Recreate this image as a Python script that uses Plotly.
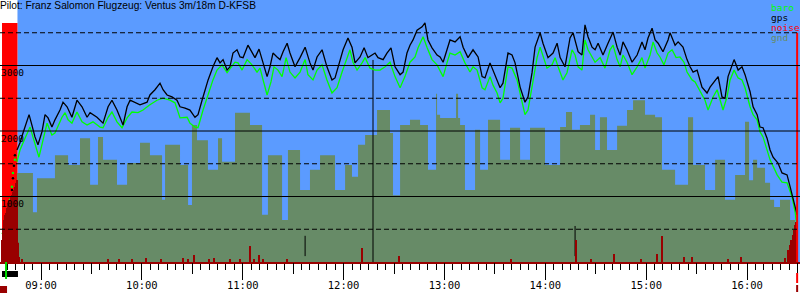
import plotly.graph_objects as go

TITLE = "Pilot: Franz Salomon Flugzeug: Ventus 3m/18m D-KFSB"

# all times are minutes after 09:00, altitudes in metres
gps_t = [-14.3, -12.5, -10.7, -8.3, -7.1, -5.4, -3.6, -1.8, 0.6, 2.4,
         4.2, 6.5, 8.3, 11.3, 13.1, 15.5, 18.4, 21.4, 24.4, 27.4,
         29.2, 33.3, 36.9, 39.9, 42.2, 45.2, 48.8, 51.2, 53.0, 58.9,
         63.1, 64.8, 67.8, 70.8, 72.6, 75.0, 77.9, 80.9, 82.7, 85.7,
         88.6, 91.6, 93.4, 95.8, 97.6, 99.4, 102.3, 104.7, 106.5, 108.3,
         110.7, 112.4, 114.2, 116.6, 118.4, 120.2, 123.1, 125.5, 127.3, 129.7,
         132.1, 134.5, 136.2, 138.0, 140.4, 142.2, 144.0, 146.4, 148.1, 151.1,
         154.1, 157.1, 160.0, 161.8, 164.2, 167.2, 170.1, 173.1, 174.9, 176.7,
         179.7, 182.6, 185.0, 186.8, 189.8, 192.2, 194.5, 196.9, 198.7, 200.5,
         203.5, 205.8, 208.2, 210.6, 213.6, 215.4, 217.7, 219.5, 221.3, 223.7,
         226.7, 228.4, 230.2, 232.6, 235.6, 237.4, 239.2, 241.5, 243.3, 246.3,
         249.3, 251.1, 254.0, 257.0, 260.0, 262.4, 264.1, 267.1, 268.9, 271.3,
         273.1, 274.8, 277.8, 280.2, 282.0, 285.0, 287.9, 289.7, 292.1, 293.9,
         296.9, 298.6, 301.6, 304.6, 307.0, 308.8, 311.7, 314.7, 316.5, 319.5,
         321.8, 323.6, 325.4, 327.8, 329.6, 331.4, 334.3, 337.3, 340.3, 342.7,
         344.5, 346.2, 348.6, 351.6, 354.6, 357.5, 359.3, 361.1, 363.5, 365.3,
         367.1, 370.0, 373.0, 374.2, 377.2, 379.0, 381.9, 384.3, 386.1, 387.9,
         390.3, 393.2, 396.2, 398.0, 401.0, 402.8, 405.1, 406.9, 408.7, 411.1,
         412.3, 414.7, 417.0, 418.8, 421.8, 423.6, 426.0, 427.7, 429.5, 431.9,
         433.7, 435.5, 438.4, 440.8, 443.8, 445.6, 447.4, 449.8]
gps_v = [1710, 1820, 1970, 2170, 2250, 2090, 1910, 1790, 1990, 2250,
         2200, 2060, 2170, 2320, 2440, 2370, 2210, 2470, 2370, 2210,
         2280, 2210, 2120, 2370, 2470, 2320, 2090, 2370, 2470, 2400,
         2440, 2550, 2630, 2730, 2630, 2550, 2520, 2470, 2370, 2350,
         2320, 2210, 2250, 2470, 2630, 2780, 2980, 3120, 3040, 3090,
         2930, 2980, 3190, 3240, 3130, 3120, 3310, 3190, 3120, 3250,
         3040, 2830, 2980, 3190, 3130, 3090, 3210, 3340, 3190, 2980,
         3120, 3280, 3040, 2930, 3130, 3240, 2980, 2780, 2810, 2980,
         3240, 3420, 3280, 3040, 3130, 3270, 3120, 3160, 3190, 3120,
         3090, 3190, 3270, 2980, 2860, 2900, 3190, 3310, 3390, 3540,
         3590, 3650, 3390, 3270, 3160, 3130, 3050, 3240, 3390, 3360,
         3440, 3280, 3120, 3240, 3130, 2830, 2810, 3040, 2930, 2780,
         2660, 2730, 3190, 3160, 3040, 2670, 2440, 2520, 2890, 3280,
         3500, 3340, 3120, 3190, 3340, 3120, 2980, 3420, 3500, 3210,
         3160, 3620, 3440, 3280, 3240, 3340, 3160, 3340, 3510, 3280,
         3160, 3360, 3240, 3050, 3160, 3360, 3240, 3420, 3570, 3390,
         3340, 3210, 3390, 3500, 3310, 3360, 3280, 3090, 2980, 2900,
         2930, 2670, 2580, 2670, 2780, 2830, 2520, 2500, 2830, 3010,
         3090, 2930, 2980, 2860, 2600, 2370, 2250, 2060, 2050, 1890,
         1710, 1600, 1510, 1360, 1330, 1150, 950, 720]

baro_t = [-14.3, -12.5, -9.5, -6.5, -4.8, -2.4, -1.2, 1.2, 3.6, 6.5,
          8.3, 12.5, 14.3, 16.1, 18.4, 21.4, 24.4, 27.4, 30.9, 35.1,
          36.9, 39.9, 42.2, 45.2, 48.2, 51.2, 54.1, 57.7, 60.7, 64.8,
          69.0, 72.6, 76.7, 79.7, 82.7, 86.9, 88.6, 91.6, 93.4, 96.4,
          98.8, 100.5, 102.3, 104.7, 107.7, 110.7, 113.6, 115.4, 117.2, 119.6,
          122.6, 125.5, 128.5, 130.3, 132.1, 134.5, 136.8, 138.6, 141.0, 143.4,
          145.8, 148.1, 151.1, 154.1, 157.1, 158.8, 161.8, 164.2, 167.2, 170.1,
          173.1, 176.1, 179.1, 182.0, 183.8, 185.6, 188.0, 191.0, 192.8, 195.7,
          198.7, 201.7, 204.7, 207.6, 210.6, 213.6, 216.5, 219.5, 222.5, 224.3,
          227.3, 229.6, 232.6, 235.6, 239.2, 241.5, 243.3, 246.3, 249.3, 252.2,
          255.2, 257.0, 259.4, 262.4, 264.1, 267.1, 268.9, 271.3, 273.1, 274.8,
          277.8, 280.2, 283.2, 286.2, 287.9, 289.7, 292.7, 295.1, 296.9, 298.6,
          301.0, 304.0, 305.8, 307.6, 310.5, 312.9, 315.9, 317.7, 319.5, 321.8,
          323.6, 325.4, 327.8, 329.6, 332.6, 335.5, 338.5, 340.3, 342.7, 344.5,
          346.2, 348.6, 351.6, 354.6, 357.5, 359.3, 362.3, 364.1, 366.5, 368.2,
          370.6, 373.0, 375.4, 377.8, 380.1, 382.5, 384.3, 387.3, 389.1, 392.0,
          395.0, 396.8, 399.8, 402.2, 403.9, 405.7, 408.1, 409.9, 412.3, 414.7,
          417.0, 418.8, 421.8, 423.6, 426.0, 427.7, 429.5, 431.9, 433.7, 437.9,
          440.8, 443.8, 446.8, 448.6, 449.8]
baro_v = [1530, 1710, 1890, 2060, 1910, 1710, 1600, 1860, 2120, 1940,
          1970, 2210, 2280, 2170, 2120, 2290, 2140, 2090, 2140, 2060,
          2050, 2210, 2290, 2140, 2050, 2200, 2290, 2280, 2320, 2400,
          2470, 2500, 2470, 2430, 2200, 2210, 2120, 2060, 2050, 2320,
          2520, 2630, 2780, 2930, 3010, 2890, 2980, 3050, 3040, 2930,
          3090, 3010, 2900, 2960, 2780, 2550, 2750, 2980, 2930, 2830,
          3120, 2900, 2810, 2900, 3090, 2860, 2780, 2930, 3010, 2780,
          2580, 2660, 2900, 3130, 3240, 3050, 2930, 3040, 3120, 2960,
          2930, 2930, 2980, 3050, 2830, 2660, 2830, 3050, 3130, 3270,
          3440, 3280, 3090, 3010, 2830, 3040, 3190, 3160, 3210, 3040,
          2900, 2980, 2930, 2660, 2630, 2830, 2700, 2580, 2430, 2500,
          2980, 2960, 2780, 2440, 2250, 2320, 2780, 3120, 3280, 3160,
          2960, 3010, 3120, 2980, 2780, 2890, 3240, 3160, 2980, 2930,
          3390, 3240, 3120, 3050, 3120, 2960, 3240, 3310, 3090, 2980,
          3160, 3050, 2860, 2980, 3120, 2960, 3160, 3360, 3190, 3130,
          3010, 3190, 3240, 3120, 3130, 3050, 2900, 2780, 2750, 2600,
          2470, 2320, 2520, 2630, 2470, 2320, 2520, 2780, 2930, 2810,
          2780, 2660, 2370, 2250, 2170, 1990, 1910, 1710, 1560, 1330,
          1220, 1210, 990, 760, 530]

# motor climb samples (sparse dots)
climb_baro_t = [-22.6, -20.8, -20.2, -18.4, -17.3, -16.7, -15.5]
climb_baro_v = [440, 570, 750, 950, 1150, 1360, 1560]
climb_gps_t = [-19.0, -17.8, -17.3, -16.7, -16.1, -15.5]
climb_gps_v = [720, 900, 1100, 1280, 1470, 1630]

gnd_t = [-14.3, -4.8, -2.4, 8.3, 16.1, 23.2, 29.2, 33.9, 36.9, 45.2,
         51.2, 58.9, 64.8, 72.0, 73.8, 82.7, 87.5, 89.8, 92.8, 99.3,
         105.3, 107.7, 115.4, 124.3, 131.5, 135.0, 143.4, 146.9, 154.1, 160.0,
         166.0, 174.9, 180.9, 185.0, 188.6, 192.8, 199.9, 207.6, 209.4, 213.6,
         219.5, 225.5, 230.2, 235.0, 235.6, 237.4, 246.9, 248.1, 249.3, 252.2,
         258.2, 261.2, 265.9, 273.1, 279.0, 285.0, 290.9, 299.8, 308.8, 312.3,
         315.9, 320.6, 326.6, 329.6, 332.5, 336.7, 342.7, 348.6, 352.2, 359.3,
         365.3, 369.4, 377.2, 384.9, 387.9, 395.0, 401.0, 406.9, 412.9, 418.8,
         421.2, 423.6, 426.0, 430.7, 433.7, 436.1, 439.6, 445.6, 448.6, 449.8]
gnd_v = [1360, 760, 1280, 1630, 1480, 1890, 1180, 1910, 1560, 1180,
         1510, 1820, 1630, 950, 1790, 1480, 870, 2090, 1860, 1410,
         1890, 1530, 2280, 2090, 720, 1630, 640, 1710, 1100, 1410,
         1630, 1100, 1480, 1300, 1790, 1940, 2320, 1970, 1020, 2090,
         2170, 2090, 1410, 2570, 2250, 2200, 2570, 2200, 2090, 1100,
         2020, 1410, 2170, 1560, 2050, 1560, 2050, 1480, 2060, 2290,
         2020, 2090, 2250, 1710, 2210, 1710, 2080, 2320, 2470, 2250,
         2210, 1410, 1180, 2210, 1480, 1100, 1560, 950, 1330, 2140,
         1250, 1560, 1440, 1210, 950, 840, 950, 640, 490, 490]

# noise level (0..1000 scale)
noise_t = [-23.2, -22.6, -22.0, -21.4, -20.8, -20.2, -19.6, -19.0, -18.4, -17.8,
           -17.3, -16.7, -16.1, -15.5, -14.9, -14.3, -13.7, -13.1, -11.3, 39.9,
           46.4, 54.1, 62.5, 71.4, 84.5, 87.5, 91.0, 99.9, 102.9, 112.4,
           118.4, 124.3, 126.7, 129.7, 132.1, 146.3, 191.0, 213.0, 279.6, 318.3,
           327.2, 340.9, 356.9, 366.4, 369.4, 382.5, 387.3, 408.7, 416.4, 442.6,
           444.4, 445.6, 446.2, 446.8, 447.4, 448.0, 448.6, 449.1, 449.7]
noise_v = [84, 130, 160, 179, 187, 206, 225, 237, 237, 248,
           256, 267, 275, 286, 302, 313, 73, 19, 11, 11,
           11, 11, 15, 11, 15, 11, 27, 11, 15, 11,
           11, 61, 11, 27, 11, 11, 53, 23, 11, 84,
           11, 31, 11, 31, 99, 19, 19, 11, 19, 15,
           46, 65, 84, 46, 103, 122, 141, 153, 153]

cursor_t = 197.5
cursor_top = 3085
flag_t = [157.1, 317.7]
flag_top = [400, 550]
flag_bottom = 90

motor_start = -23.2
motor_end = -14.0
motor_top = 3650
flight_end = 449.8

hour_ticks = [0, 60, 120, 180, 240, 300, 360, 420]
hour_labels = ["09:00", "10:00", "11:00", "12:00", "13:00", "14:00", "15:00", "16:00"]
half_ticks = [30, 90, 150, 210, 270, 330, 390, 450]
minor_ticks = list(range(-20, 452, 5))
ytick_vals = [1000, 2000, 3000]
grid_solid = [1000, 2000, 3000]
grid_dashed = [500, 1500, 2500, 3500]
legend_items = [("baro", "#00ff00"), ("gps", "#000000"), ("noise", "#ff0000"), ("gnd", "#678b67")]

X_RANGE = [-24.39, 451.5]
BLUE = "#5b9bff"
GND = "#678b67"
DARKRED = "#990000"
RED = "#ff0000"
MONO = "DejaVu Sans Mono"

fig = go.Figure()
fig.add_trace(go.Scatter(x=gnd_t, y=gnd_v, mode="lines", line=dict(width=0, shape="hv"),
                         fill="tozeroy", fillcolor=GND, hoverinfo="skip"))
fig.add_trace(go.Scatter(x=[cursor_t, cursor_t], y=[0, cursor_top], mode="lines",
                         line=dict(color="black", width=1), hoverinfo="skip"))
fx, fy = [], []
for t, top in zip(flag_t, flag_top):
    fx += [t, t, None]
    fy += [flag_bottom, top, None]
fig.add_trace(go.Scatter(x=fx, y=fy, mode="lines", line=dict(color="black", width=1), hoverinfo="skip"))
fig.add_trace(go.Scatter(x=baro_t, y=baro_v, mode="lines", line=dict(color="#00ff00", width=1.3)))
fig.add_trace(go.Scatter(x=gps_t, y=gps_v, mode="lines", line=dict(color="black", width=1.3)))
fig.add_trace(go.Scatter(x=climb_baro_t, y=climb_baro_v, mode="markers",
                         marker=dict(color="#00ff00", size=2.5)))
fig.add_trace(go.Scatter(x=climb_gps_t, y=climb_gps_v, mode="markers",
                         marker=dict(color="black", size=2.5)))
fig.add_trace(go.Bar(x=noise_t, y=noise_v, width=0.6, marker=dict(color=DARKRED, line=dict(width=0)),
                     xaxis="x2", yaxis="y2", hoverinfo="skip"))

shapes = [
    dict(type="rect", xref="x", yref="paper", x0=motor_end, x1=X_RANGE[1], y0=0, y1=1,
         fillcolor=BLUE, line=dict(width=0), layer="below"),
    dict(type="rect", xref="x", yref="y", x0=motor_start, x1=motor_end, y0=0, y1=motor_top,
         fillcolor=RED, line=dict(width=0), layer="below"),
    dict(type="line", xref="x", yref="y", x0=flight_end, x1=flight_end, y0=0, y1=3500,
         line=dict(color=RED, width=2), layer="above"),
]
for v in grid_solid:
    shapes.append(dict(type="line", xref="paper", yref="y", x0=0, x1=1, y0=v, y1=v,
                       line=dict(color="black", width=1), layer="above"))
for v in grid_dashed:
    shapes.append(dict(type="line", xref="paper", yref="y", x0=0, x1=1, y0=v, y1=v,
                       line=dict(color="black", width=1, dash="5px,3px"), layer="above"))
# markers below the time axis
shapes += [
    dict(type="rect", xref="x", yref="paper", ysizemode="pixel", yanchor=0,
         x0=motor_start, x1=-13.7, y0=-9, y1=-15, fillcolor="black", line=dict(width=0)),
    dict(type="line", xref="x", yref="paper", ysizemode="pixel", yanchor=0,
         x0=-20.8, x1=-20.8, y0=0, y1=-17, line=dict(color="#00dd00", width=2)),
    dict(type="rect", xref="x", yref="paper", ysizemode="pixel", yanchor=0,
         x0=X_RANGE[0], x1=-20.2, y0=-24, y1=-31, fillcolor=DARKRED, line=dict(width=0)),
    dict(type="line", xref="x", yref="paper", ysizemode="pixel", yanchor=0,
         x0=flight_end, x1=flight_end, y0=-11, y1=-21, line=dict(color=RED, width=2)),
    dict(type="line", xref="x", yref="paper", ysizemode="pixel", yanchor=0,
         x0=flight_end, x1=flight_end, y0=-23, y1=-30, line=dict(color=DARKRED, width=2)),
]

annotations = [dict(text=TITLE, xref="paper", yref="paper", x=0, y=1, xanchor="left", yanchor="top",
                    showarrow=False, font=dict(family="Liberation Sans", size=10.2, color="black"),
                    borderpad=0, xshift=-1, yshift=1)]
for v in ytick_vals:
    annotations.append(dict(text=str(v), xref="paper", yref="y", x=0, y=v, xanchor="left",
                            yanchor="middle", yshift=-7, showarrow=False, borderpad=0,
                            font=dict(family=MONO, size=9.5, color="black")))
for i, (name, col) in enumerate(legend_items):
    annotations.append(dict(text=name, xref="paper", yref="paper", x=770 / 800, y=1,
                            xanchor="left", yanchor="middle", yshift=-7 - 10 * i, showarrow=False,
                            borderpad=0, font=dict(family=MONO, size=9.5, color=col)))

fig.update_layout(
    width=800, height=300, margin=dict(l=0, r=0, t=0, b=38),
    paper_bgcolor="white", plot_bgcolor="white", showlegend=False, barmode="overlay",
    shapes=shapes, annotations=annotations,
    # primary axis: hour labels + 5-minute ticks
    xaxis=dict(range=X_RANGE, showgrid=False, zeroline=False, showline=True, linecolor=DARKRED,
               linewidth=2, ticks="outside", tickmode="array", tickvals=hour_ticks, ticktext=hour_labels,
               ticklen=12, tickcolor="black", tickwidth=1,
               tickfont=dict(family=MONO, size=10.5, color="black"),
               minor=dict(ticks="outside", tickmode="array", tickvals=minor_ticks, ticklen=6,
                          tickcolor="black", tickwidth=1, showgrid=False)),
    yaxis=dict(range=[0, 4000], showgrid=False, zeroline=False, showticklabels=False, ticks=""),
    # secondary axis: long hour ticks + half-hour ticks
    xaxis2=dict(range=X_RANGE, overlaying="x", anchor="y2", side="bottom", showgrid=False,
                zeroline=False, showline=False, ticks="outside", tickmode="array", tickvals=hour_ticks,
                ticklen=17, tickcolor="black", tickwidth=1, showticklabels=False,
                minor=dict(ticks="outside", tickmode="array", tickvals=half_ticks, ticklen=11,
                           tickcolor="black", tickwidth=1, showgrid=False)),
    yaxis2=dict(range=[0, 1000], overlaying="y", visible=False),
)

fig.write_html("out.html")
